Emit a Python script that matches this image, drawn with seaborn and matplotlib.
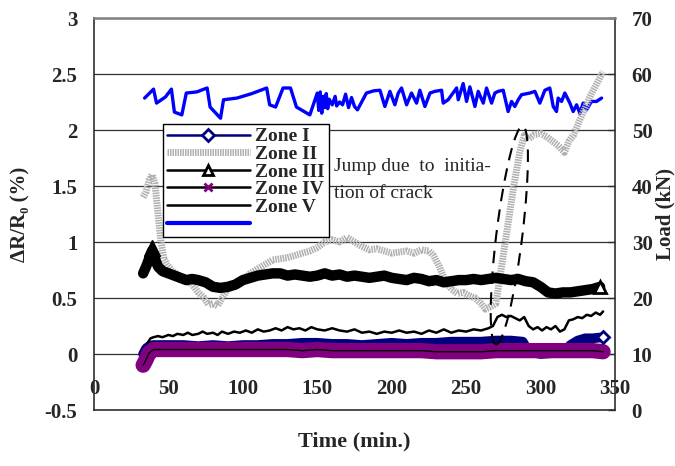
import numpy as np
import pandas as pd
import matplotlib
matplotlib.use("Agg")
import matplotlib.pyplot as plt
import matplotlib.transforms as mtransforms
from matplotlib.patches import Ellipse
from matplotlib.lines import Line2D
import seaborn as sns

# ---------------- data ----------------
# Zone II resistance change (%)
t_zone2 = [33, 35, 37, 39, 41, 43, 45, 47, 49, 52, 55, 58, 62, 66, 70, 74, 77, 80, 83, 86,
           90, 95, 100, 105, 110, 115, 120, 125, 130, 135, 140, 145, 150, 155, 160, 165,
           170, 175, 180, 185, 190, 195, 200, 205, 210, 215, 220, 225, 228, 232, 236, 240,
           244, 248, 252, 256, 260, 263, 266, 270, 274, 278, 282, 286, 289, 292, 296, 300,
           304, 308, 312, 316, 319, 322, 326, 330, 334, 338, 342]
zone2 = [1.40, 1.45, 1.55, 1.60, 1.52, 1.25, 1.00, 0.85, 0.80, 0.75, 0.72, 0.68, 0.65, 0.62,
         0.55, 0.50, 0.44, 0.45, 0.43, 0.50, 0.58, 0.62, 0.66, 0.72, 0.76, 0.80, 0.84, 0.85,
         0.86, 0.88, 0.90, 0.92, 0.95, 1.00, 1.02, 1.00, 1.04, 1.00, 0.96, 0.93, 0.94, 0.92,
         0.90, 0.91, 0.92, 0.90, 0.93, 0.92, 0.88, 0.78, 0.65, 0.58, 0.54, 0.55, 0.52, 0.50,
         0.45, 0.40, 0.42, 0.45, 0.80, 1.15, 1.50, 1.80, 1.95, 1.92, 1.96, 1.97, 1.94, 1.90,
         1.86, 1.80, 1.90, 1.95, 2.08, 2.20, 2.32, 2.42, 2.52]

# Zone III resistance change (%)
t_zone3 = [33, 35, 37, 39, 41, 43, 46, 50, 54, 58, 62, 66, 70, 75, 80, 85, 90, 95, 100, 105,
           110, 115, 120, 125, 130, 135, 140, 145, 150, 155, 160, 165, 170, 175, 180, 185,
           190, 195, 200, 205, 210, 215, 220, 225, 230, 235, 240, 245, 250, 255, 260, 265,
           270, 275, 280, 285, 290, 295, 300, 305, 310, 315, 320, 325, 330, 335, 340]
zone3 = [0.72, 0.78, 0.85, 0.92, 0.85, 0.78, 0.74, 0.72, 0.70, 0.68, 0.66, 0.67, 0.66, 0.64,
         0.60, 0.59, 0.60, 0.62, 0.66, 0.68, 0.70, 0.71, 0.72, 0.72, 0.70, 0.71, 0.70, 0.69,
         0.70, 0.72, 0.70, 0.71, 0.69, 0.70, 0.69, 0.68, 0.69, 0.70, 0.68, 0.67, 0.66, 0.68,
         0.67, 0.65, 0.66, 0.64, 0.65, 0.66, 0.66, 0.67, 0.66, 0.67, 0.68, 0.67, 0.66, 0.67,
         0.65, 0.64, 0.60, 0.55, 0.54, 0.55, 0.55, 0.56, 0.57, 0.58, 0.60]

# Zone V resistance change (%)
t_zone5 = [36, 38, 40, 43, 46, 50, 53, 56, 60, 63, 66, 70, 73, 76, 80, 83, 86, 90, 94, 98,
           102, 106, 110, 114, 118, 122, 126, 130, 134, 138, 142, 146, 150, 155, 160, 165,
           170, 175, 180, 185, 190, 195, 200, 205, 210, 215, 220, 225, 230, 235, 240, 245,
           250, 255, 260, 265, 268, 271, 274, 277, 280, 283, 286, 289, 292, 295, 298, 301,
           304, 307, 310, 313, 316, 319, 322, 325, 328, 331, 334, 337, 340, 342]
zone5 = [0.10, 0.14, 0.15, 0.16, 0.15, 0.17, 0.16, 0.18, 0.17, 0.19, 0.17, 0.18, 0.20, 0.18,
         0.19, 0.17, 0.20, 0.18, 0.20, 0.19, 0.21, 0.19, 0.22, 0.20, 0.21, 0.23, 0.21, 0.24,
         0.22, 0.23, 0.21, 0.24, 0.22, 0.21, 0.23, 0.21, 0.20, 0.22, 0.19, 0.20, 0.18, 0.20,
         0.19, 0.21, 0.19, 0.20, 0.18, 0.21, 0.19, 0.22, 0.19, 0.21, 0.20, 0.22, 0.21, 0.23,
         0.25, 0.33, 0.35, 0.33, 0.34, 0.32, 0.30, 0.33, 0.25, 0.22, 0.24, 0.21, 0.24, 0.22,
         0.25, 0.20, 0.22, 0.30, 0.31, 0.33, 0.32, 0.35, 0.34, 0.37, 0.35, 0.38]

# Zones I and IV resistance change (%)
t_low = [33, 35, 37, 40, 45, 50, 60, 70, 80, 90, 100, 110, 120, 130, 140, 150, 160, 170, 180,
         190, 200, 210, 220, 230, 240, 250, 260, 270, 280, 288, 292, 300, 310, 316, 320,
         325, 330, 335, 342]
zone1 = [0.00, 0.05, 0.07, 0.08, 0.08, 0.08, 0.08, 0.07, 0.08, 0.07, 0.08, 0.08, 0.09, 0.09,
         0.10, 0.10, 0.09, 0.09, 0.08, 0.09, 0.10, 0.09, 0.10, 0.10, 0.11, 0.11, 0.11, 0.12,
         0.12, 0.11, 0.02, 0.00, 0.01, 0.02, 0.08, 0.12, 0.14, 0.14, 0.15]
zone4 = [-0.10, -0.05, 0.01, 0.04, 0.04, 0.04, 0.04, 0.04, 0.04, 0.04, 0.04, 0.04, 0.04,
         0.04, 0.03, 0.04, 0.03, 0.03, 0.03, 0.03, 0.03, 0.03, 0.03, 0.02, 0.02, 0.02, 0.02,
         0.03, 0.03, 0.03, 0.03, 0.03, 0.03, 0.03, 0.03, 0.03, 0.03, 0.03, 0.02]

# Applied load (kN)
t_load = [34, 40, 42, 48, 52, 54, 59, 62, 69, 76, 78, 85, 87, 96, 106, 116, 118, 122, 127,
          132, 136, 145, 150, 151, 152, 153, 154, 155, 156, 157, 158, 160, 162, 163, 165, 167,
          169, 171, 173, 175, 177, 183, 188, 192.1, 195.4, 198.8, 202.1, 204.4, 206.6, 210.0,
          213.3, 216.7, 218.9, 222.3, 225.7, 229.0, 233.5, 234.6, 237.9, 243.6, 244.7, 248.0,
          250.3, 252.5, 255.9, 258.1, 261.5, 263.7, 267.1, 269.3, 271.5, 274.9, 278.2, 280.5,
          282.7, 285.0, 287.2, 292.8, 296.2, 299.5, 302.9, 306.2, 308.5, 310.7, 311.8, 314.1,
          316.3, 319.7, 321.9, 324.2, 326.4, 328.6, 330.9, 334.2, 337.6, 341.0]
load = [55.7, 57.3, 54.8, 55.9, 57.3, 53.2, 52.7, 56.6, 56.8, 57.5, 54.1, 52.1, 55.4, 55.7,
        56.5, 57.5, 54.5, 54.1, 57.5, 57.5, 54.1, 52.7, 56.6, 53.5, 56.8, 53.0, 56.0, 54.0,
        56.5, 53.8, 55.5, 54.5, 56.0, 54.3, 55.0, 54.5, 56.4, 54.0, 55.8, 54.2, 53.6, 56.6,
        57.0, 57.1, 54.2, 56.9, 54.5, 56.6, 57.5, 54.5, 56.6, 54.8, 57.1, 54.2, 56.6, 56.9,
        57.1, 54.8, 55.4, 57.5, 55.4, 58.3, 55.1, 57.7, 54.2, 56.9, 54.8, 57.5, 54.8, 56.6,
        56.9, 57.1, 53.3, 55.1, 54.2, 55.4, 56.3, 56.6, 56.9, 54.8, 57.1, 57.5, 54.2, 53.3,
        55.7, 55.1, 56.6, 54.8, 53.3, 54.5, 53.0, 54.8, 53.6, 55.1, 55.1, 55.7]

x_ticks = [0, 50, 100, 150, 200, 250, 300, 350]
y_ticks = [-0.5, 0, 0.5, 1, 1.5, 2, 2.5, 3]
y_tick_labels = ["-0.5", "0", "0.5", "1", "1.5", "2", "2.5", "3"]
load_ticks = [0, 10, 20, 30, 40, 50, 60, 70]
zone_names = ["Zone I", "Zone II", "Zone III", "Zone IV", "Zone V"]

# ---------------- style ----------------
sns.set_style("white")
plt.rcParams["font.family"] = ["Liberation Serif", "DejaVu Serif"]
plt.rcParams["font.weight"] = "bold"

NAVY = "#00007f"
GRAY = "#b0b0b0"
PURPLE = "#800080"
BLUE = "#0000ff"
STRIPES = (0, (0.22, 0.14))

fig = plt.figure(figsize=(6.75, 4.66), dpi=100)
W, H = 675, 466
ax = fig.add_axes([94 / W, 1 - 410 / H, (615 - 94) / W, (410 - 18) / H])

df2 = pd.DataFrame({"t": t_zone2, "v": zone2})
df3 = pd.DataFrame({"t": t_zone3, "v": zone3})
df5 = pd.DataFrame({"t": t_zone5, "v": zone5})
dflow = pd.DataFrame({"t": t_low, "z1": zone1, "z4": zone4})
dfl = pd.DataFrame({"t": t_load, "kN": load})

# Zone I (navy band, diamond at the end)
sns.lineplot(data=dflow, x="t", y="z1", ax=ax, color=NAVY, lw=7, sort=False,
             estimator=None, zorder=3)
ax.plot(dflow["t"].iloc[-1], dflow["z1"].iloc[-1], marker="D", ms=6, mfc="white",
        mec=NAVY, mew=2, zorder=6)
# Zone IV (dense purple crosses on a black trace)
sns.lineplot(data=dflow, x="t", y="z4", ax=ax, color=PURPLE, lw=11, sort=False,
             estimator=None, zorder=4)
sns.lineplot(data=dflow, x="t", y="z4", ax=ax, color="black", lw=1, sort=False,
             estimator=None, zorder=5)
# Zone V
sns.lineplot(data=df5, x="t", y="v", ax=ax, color="black", lw=1.8, sort=False,
             estimator=None, zorder=5)
# Zone III (thick black band of triangles)
sns.lineplot(data=df3, x="t", y="v", ax=ax, color="black", lw=7.5, sort=False,
             estimator=None, zorder=4)
ax.plot(df3["t"].iloc[-1], df3["v"].iloc[-1], marker="^", ms=9, mfc="white",
        mec="black", mew=2, zorder=6)
ax.plot(df3["t"].iloc[3], df3["v"].iloc[3] + 0.03, marker="^", ms=11, color="black", zorder=6)
# Zone II (wide gray striped trace)
line2 = sns.lineplot(data=df2, x="t", y="v", ax=ax, color=GRAY, lw=5, sort=False,
                     estimator=None, zorder=3).lines[-1]
line2.set_linestyle(STRIPES)
line2.set_dash_capstyle("butt")

ax.set_xlim(0, 350)
ax.set_ylim(-0.5, 3)
ax.set_yticks(y_ticks)
ax.set_yticklabels(y_tick_labels)
ax.set_xticks(x_ticks)
ax.set_xticklabels([str(v) for v in x_ticks])
ax.tick_params(axis="y", labelsize=15, length=0, pad=12)
ax.tick_params(axis="x", labelsize=15, length=0, pad=-22)
for lbl in ax.get_xticklabels() + ax.get_yticklabels():
    lbl.set_fontweight("bold")
ax.yaxis.grid(True, color="#303030", lw=0.9)
ax.xaxis.grid(False)
ax.set_axisbelow(True)
for side in ["left", "bottom", "right"]:
    ax.spines[side].set_color("#303030")
    ax.spines[side].set_linewidth(1.2)
ax.spines["top"].set_color("#808080")
ax.spines["top"].set_linewidth(1.8)

ax.set_xlabel("Time (min.)", fontsize=16, fontweight="bold")
ax.set_ylabel("ΔR/R₀ (%)", fontsize=15, fontweight="bold", labelpad=10)
ax.xaxis.set_label_coords(0.5, -0.055)

# Load on a secondary axis
ax2 = ax.twinx()
sns.lineplot(data=dfl, x="t", y="kN", ax=ax2, color=BLUE, lw=2.4, sort=False,
             estimator=None, zorder=3)
ax2.set_ylim(0, 70)
ax2.set_yticks(load_ticks)
ax2.set_yticklabels([str(v) for v in load_ticks])
ax2.tick_params(axis="y", labelsize=15, direction="in", length=5, width=1, pad=12)
for lbl in ax2.get_yticklabels():
    lbl.set_fontweight("bold")
ax2.set_ylabel("Load (kN)", fontsize=15, fontweight="bold", labelpad=2)
ax2.grid(False)
for side in ["left", "bottom", "right", "top"]:
    ax2.spines[side].set_visible(False)

# Annotation for the crack initiation
ax.text(161, 1.67, "Jump due  to  initia-", fontsize=14, fontweight="normal",
        va="center", ha="left", zorder=7)
ax.text(161, 1.43, "tion of crack", fontsize=14, fontweight="normal",
        va="center", ha="left", zorder=7)
tr = fig.dpi_scale_trans + mtransforms.ScaledTranslation(279, 1.06, ax.transData)
ax.add_patch(Ellipse((0, 0), width=0.26, height=2.2, angle=-7, transform=tr,
                     fill=False, ec="black", lw=1.5, ls=(0, (6, 4)), zorder=8))

# Legend
handles = [
    Line2D([], [], color=NAVY, lw=1.8, marker="D", ms=6, mfc="white", mec=NAVY, mew=2),
    Line2D([], [], color=GRAY, lw=5, ls=STRIPES, dash_capstyle="butt"),
    Line2D([], [], color="black", lw=1.8, marker="^", ms=7, mfc="white", mec="black", mew=2),
    Line2D([], [], color="black", lw=1.8, marker="x", ms=6, mec=PURPLE, mew=2),
    Line2D([], [], color="black", lw=1.8),
    Line2D([], [], color=BLUE, lw=3),
]
labels = zone_names + [""]
leg = ax.legend(handles, labels, loc="upper left", bbox_to_anchor=(0.132, 0.73),
                frameon=True, fancybox=False, shadow=False, framealpha=1,
                edgecolor="black", handlelength=4.3, handletextpad=0.25,
                labelspacing=0.0, borderpad=0.2, borderaxespad=0,
                prop={"family": "Liberation Serif", "weight": "bold", "size": 14})
leg.get_frame().set_linewidth(1.0)
leg.set_zorder(10)
ax.set_zorder(ax2.get_zorder() + 1)
ax.patch.set_visible(False)

fig.savefig("out.png", dpi=100)
